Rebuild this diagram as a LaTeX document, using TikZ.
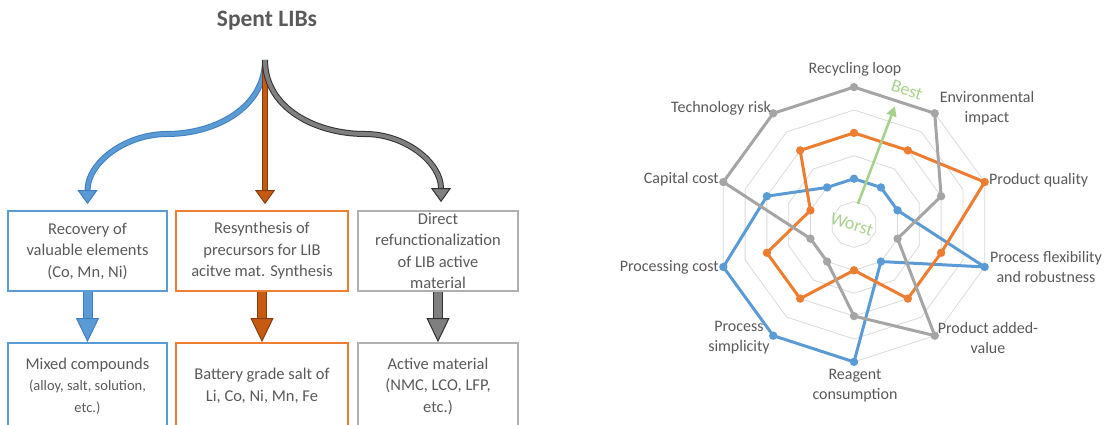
\documentclass[tikz,border=0pt]{standalone}
\usepackage{fontspec}
\setmainfont{Carlito}
\usetikzlibrary{arrows.meta,positioning}

\definecolor{libblue}{HTML}{5B9BD5}
\definecolor{libblueedge}{HTML}{3F7FBF}
\definecolor{liborange}{HTML}{ED7D31}
\definecolor{libgray}{HTML}{A5A5A5}
\definecolor{libboxgray}{HTML}{B0B0B0}
\definecolor{libtext}{HTML}{595959}
\definecolor{libgreen}{HTML}{A9D18E}
\definecolor{libring}{HTML}{D9D9D9}
\definecolor{libbrown}{HTML}{C55A11}
\definecolor{libbrownedge}{HTML}{843C0C}
\definecolor{libdark}{HTML}{7F7F7F}
\definecolor{libdarkedge}{HTML}{303030}

\tikzset{
  routebox/.style={draw=#1, line width=1.8pt, text=libtext, align=center,
    font=\fontsize{16.5}{21.5}\selectfont, inner sep=0pt},
  routearrow/.style 2 args={draw=#2, line width=1pt, double=#1, double distance=4pt,
    -{Triangle[length=14pt,width=20pt,fill=#1]}},
  fatarrow/.style 2 args={draw=#2, line width=1pt, double=#1, double distance=8pt,
    -{Triangle[length=24pt,width=23pt,fill=#1]}},
  axislabel/.style={text=libtext, align=center, font=\fontsize{16}{20}\selectfont, inner sep=0pt},
  scalelabel/.style={text=libgreen, font=\fontsize{18}{20}\selectfont, rotate=-18, inner sep=0pt},
}

\begin{document}
\begin{tikzpicture}[x=1pt,y=-1pt]
\useasboundingbox (0,0) rectangle (1111,425);
\clip (0,0) rectangle (1111,425);

% Recycling routes
\node[text=libtext, font=\bfseries\fontsize{23.5}{26}\selectfont] (spent) at (267,21) {Spent LIBs};
\coordinate (src) at (265,60);

\node[routebox=libblue, minimum width=159pt, minimum height=80pt] (recovery) at (87.5,251)
  {Recovery of\\valuable elements\\(Co, Mn, Ni)};
\node[routebox=liborange, minimum width=172pt, minimum height=80pt] (resynth) at (262,251)
  {Resynthesis of\\precursors for LIB\\acitve mat. Synthesis};
\node[routebox=libboxgray, minimum width=160pt, minimum height=80pt] (direct) at (438,251)
  {Direct\\refunctionalization\\of LIB active\\material};

\node[routebox=libblue, minimum width=159pt, minimum height=86pt] (mixed) at (87.5,386)
  {Mixed compounds\\{\fontsize{14.5}{19.5}\selectfont (alloy, salt, solution,}\\{\fontsize{14.5}{19.5}\selectfont etc.)}};
\node[routebox=liborange, minimum width=172pt, minimum height=86pt] (salt) at (262,386)
  {Battery grade salt of\\Li, Co, Ni, Mn, Fe};
\node[routebox=libboxgray, minimum width=160pt, minimum height=86pt] (active) at (438,386)
  {Active material\\(NMC, LCO, LFP,\\etc.)};

\coordinate (bluebend) at (167,134);
\coordinate (graybend) at (365,134);

% branches from the source
\draw[routearrow={libblue}{libblueedge}] (src) to[out=-90,in=0] (bluebend)
  to[out=180,in=90] ([yshift=6pt]recovery.north);
\draw[routearrow={libbrown}{libbrownedge}] (src) -- ([yshift=6pt]src |- resynth.north);
\draw[routearrow={libdark}{libdarkedge}] (src) to[out=-90,in=180] (graybend)
  to[out=0,in=90] ([xshift=3pt,yshift=8pt]direct.north);

% products
\draw[fatarrow={libblue}{libblueedge}] (recovery.south) -- (mixed.north);
\draw[fatarrow={libbrown}{libbrownedge}] (resynth.south) -- (salt.north);
\draw[fatarrow={libdark}{libdarkedge}] (direct.south) -- (active.north);

% Radar chart
\begin{scope}[shift={(854,224.5)}, x=22.9pt, y=22.9pt]
  \foreach \r in {1,...,6}
    \draw[libring, line width=0.8pt] (90:\r) \foreach \a in {54,18,...,-234} {-- (\a:\r)} -- cycle;

  \foreach \col/\vals in {libblue/{2,2,2,6,2,6,6,6,4,2},
                          liborange/{4,4,6,4,4,2,4,4,2,4},
                          libgray/{6,6,4,2,6,4,2,2,6,6}} {
    \foreach \v [count=\i] in \vals
      \coordinate (\col-\i) at ({126-36*\i}:\v);
    \draw[\col, line width=3pt, line join=round] (\col-1) \foreach \i in {2,...,10} {-- (\col-\i)} -- cycle;
    \foreach \i in {1,...,10}
      \fill[\col] (\col-\i) circle (4.2pt);
  }

  \coordinate (worstend) at (0.17,0.9);
  \coordinate (bestend) at (1.79,5.17);
  \draw[libgreen, line width=2.6pt, -{Triangle[length=10pt,width=10pt]}] (worstend) -- (bestend);
  \node[scalelabel] (worst) at (-0.09,0) {Worst};
  \node[scalelabel] (best) at (2.31,5.87) {Best};
\end{scope}

% axis labels
\node[axislabel] (recloop) at (855,69) {Recycling loop};
\node[axislabel] (envimp) at (987,108) {Environmental\\impact};
\node[axislabel, anchor=west] (quality) at (989,180) {Product quality};
\node[axislabel] (flex) at (1046,267) {Process flexibility\\and robustness};
\node[axislabel] (added) at (988,338) {Product added-\\value};
\node[axislabel] (reagent) at (855,386) {Reagent\\consumption};
\node[axislabel] (simple) at (739,338) {Process\\simplicity};
\node[axislabel, anchor=east] (proccost) at (719,267) {Processing cost};
\node[axislabel, anchor=east] (capcost) at (719,179) {Capital cost};
\node[axislabel, anchor=east] (techrisk) at (771,108) {Technology risk};
\end{tikzpicture}
\end{document}
